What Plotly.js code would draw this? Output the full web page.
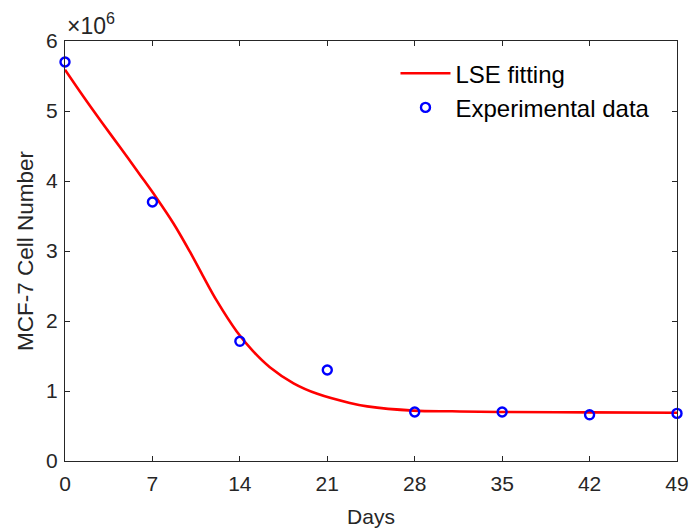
<!DOCTYPE html>
<html>
<head>
<meta charset="utf-8">
<script src="https://cdn.plot.ly/plotly-3.0.1.min.js"></script>
<style>html,body{margin:0;padding:0;background:#fff}#chart{width:689px;height:531px}</style>
</head>
<body>
<div id="chart"></div>
<script>
// Experimental data
const expDays = [0, 7, 14, 21, 28, 35, 42, 49];
const expCells = [5.70e6, 3.70e6, 1.71e6, 1.30e6, 0.70e6, 0.70e6, 0.66e6, 0.68e6];

// LSE fitted curve
const fitDays = [0, 1.5, 3, 4.5, 6, 7.3, 8.7, 10, 11, 12.15, 13.75, 15, 16.4, 18.3, 20.2, 22.8, 24.2, 27.9, 31, 34.8, 42, 49];
const fitCells = [5.59e6, 5.20e6, 4.825e6, 4.46e6, 4.09e6, 3.765e6, 3.39e6, 2.99e6, 2.66e6, 2.29e6, 1.85e6, 1.58e6, 1.34e6, 1.11e6, 0.96e6, 0.83e6, 0.78e6, 0.72e6, 0.71e6, 0.70e6, 0.695e6, 0.69e6];

const xTicks = [0, 7, 14, 21, 28, 35, 42, 49];
const yTickVals = [0, 1e6, 2e6, 3e6, 4e6, 5e6, 6e6];
const yTickText = ['0', '1', '2', '3', '4', '5', '6'];

const font = 'Liberation Sans, Arial, sans-serif';
const ink = '#262626';

const traces = [
  {x: fitDays, y: fitCells, mode: 'lines', name: 'LSE fitting', legendgroup: 'a',
   line: {color: '#ff0000', width: 2.6, shape: 'spline', smoothing: 1}},
  {x: expDays, y: expCells, mode: 'markers', name: 'Experimental data', legendgroup: 'b',
   marker: {symbol: 'circle-open', color: '#0000ff', size: 9, line: {width: 2.4, color: '#0000ff'}},
   cliponaxis: false}
];

const axisCommon = {
  showgrid: false, zeroline: false, showline: true, linecolor: ink, linewidth: 1,
  mirror: 'ticks', ticks: 'inside', ticklen: 5, tickcolor: ink, tickwidth: 1,
  tickfont: {family: font, size: 21, color: ink}
};

const layout = {
  width: 689, height: 531,
  margin: {l: 65, r: 12, t: 41, b: 70},
  paper_bgcolor: '#fff', plot_bgcolor: '#fff',
  showlegend: true,
  legend: {x: 0.54, y: 0.976, xanchor: 'left', yanchor: 'top', bgcolor: 'rgba(255,255,255,0)',
           font: {family: font, size: 24, color: '#000'}, borderwidth: 0, itemwidth: 50,
           traceorder: 'grouped', tracegroupgap: 0},
  xaxis: Object.assign({}, axisCommon, {range: [0, 49], tickvals: xTicks, ticklabelstandoff: 4,
    title: {text: 'Days', font: {family: font, size: 21, color: ink}, standoff: 15}}),
  yaxis: Object.assign({}, axisCommon, {range: [0, 6e6], tickvals: yTickVals, ticktext: yTickText, ticklabelstandoff: 2,
    title: {text: 'MCF-7 Cell Number', font: {family: font, size: 22.5, color: ink}, standoff: 6}}),
  annotations: [{xref: 'paper', yref: 'paper', x: 0, y: 1, xanchor: 'left', yanchor: 'bottom', yshift: 0,
    text: '×10<sup>6</sup>', showarrow: false, font: {family: font, size: 23, color: ink}}]
};

Plotly.newPlot('chart', traces, layout, {displayModeBar: false, staticPlot: true});
</script>
</body>
</html>
